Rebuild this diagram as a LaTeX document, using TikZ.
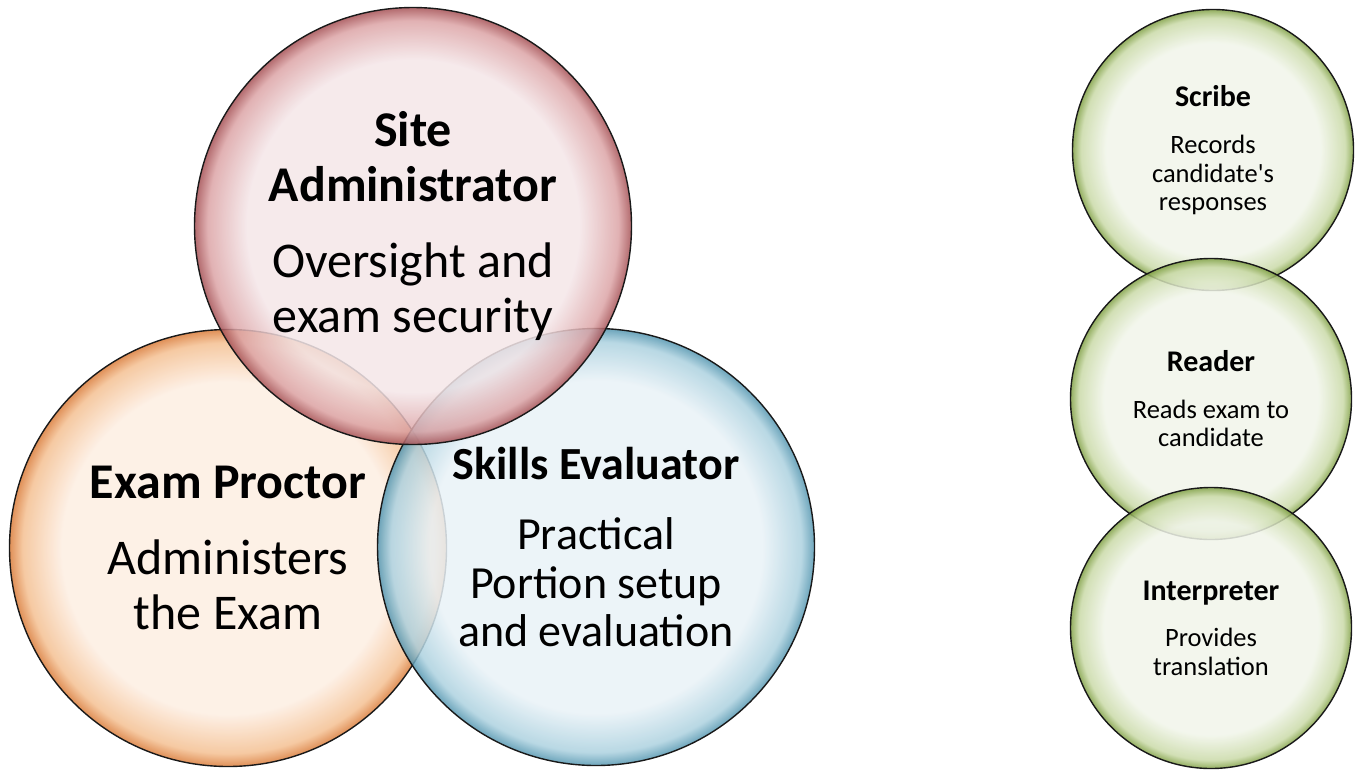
\documentclass[tikz,border=0pt]{standalone}
\usepackage{fontspec}
\setmainfont{Carlito}
\usepackage{tikz}
\usetikzlibrary{shapes.geometric}

\definecolor{pinkIn}{RGB}{244,230,232}
\definecolor{pinkMid}{RGB}{220,164,166}
\definecolor{pinkOut}{RGB}{165,80,84}
\definecolor{orgIn}{RGB}{253,238,226}
\definecolor{orgMid}{RGB}{244,192,146}
\definecolor{orgOut}{RGB}{218,124,58}
\definecolor{bluIn}{RGB}{233,242,247}
\definecolor{bluMid}{RGB}{172,209,223}
\definecolor{bluOut}{RGB}{84,150,176}
\definecolor{grnIn}{RGB}{241,245,234}
\definecolor{grnMid}{RGB}{202,218,168}
\definecolor{grnOut}{RGB}{128,160,68}

\pgfdeclareradialshading{pinkBubble}{\pgfpoint{0bp}{0bp}}{color(0bp)=(pinkIn); color(19bp)=(pinkIn); color(23.5bp)=(pinkMid); color(25bp)=(pinkOut); color(50bp)=(pinkOut)}
\pgfdeclareradialshading{orgBubble}{\pgfpoint{0bp}{0bp}}{color(0bp)=(orgIn); color(19bp)=(orgIn); color(23.5bp)=(orgMid); color(25bp)=(orgOut); color(50bp)=(orgOut)}
\pgfdeclareradialshading{bluBubble}{\pgfpoint{0bp}{0bp}}{color(0bp)=(bluIn); color(19bp)=(bluIn); color(23.5bp)=(bluMid); color(25bp)=(bluOut); color(50bp)=(bluOut)}
\pgfdeclareradialshading{grnBubble}{\pgfpoint{0bp}{0bp}}{color(0bp)=(grnIn); color(19bp)=(grnIn); color(23.5bp)=(grnMid); color(25bp)=(grnOut); color(50bp)=(grnOut)}

\tikzstyle{bubble}  = [circle, inner sep=0pt, draw=black!90, line width=1.4pt,
fill opacity=0.85, text opacity=1, align=center]
\tikzstyle{big}     = [bubble, minimum size=437pt, font=\fontsize{50}{55}\selectfont]
\tikzstyle{small}   = [bubble, minimum size=281pt, font=\fontsize{26.5}{28.5}\selectfont]
\newcommand{\ttl}[1]{{\fontsize{30}{30}\selectfont\textbf{#1}}}

\begin{document}
\begin{tikzpicture}[x=1pt, y=-1pt]
      \useasboundingbox (0,0) rectangle (1356,769);

      \node(Ep) [big, shading=orgBubble] at (228,548)
            {\textbf{Exam Proctor}\\[21pt]Administers\\the Exam};
      \node(Se) [big, shading=bluBubble, font=\fontsize{46}{48.5}\selectfont] at (596,547)
            {\textbf{Skills Evaluator}\\[22pt]Practical\\Portion setup\\and evaluation};
      \node(Sa) [big, shading=pinkBubble] at (413,226)
            {\textbf{Site}\\\textbf{Administrator}\\[21pt]Oversight and\\exam security};

      \node(Sc) [small, shading=grnBubble] at (1213,150)
            {\ttl{Scribe}\\[19pt]Records\\candidate\textquotesingle s\\responses};
      \node(Rd) [small, shading=grnBubble] at (1211,399)
            {\ttl{Reader}\\[18pt]Reads exam to\\candidate};
      \node(In) [small, shading=grnBubble] at (1211,628)
            {\ttl{Interpreter}\\[18pt]Provides\\translation};
    \end{tikzpicture}
\end{document}
